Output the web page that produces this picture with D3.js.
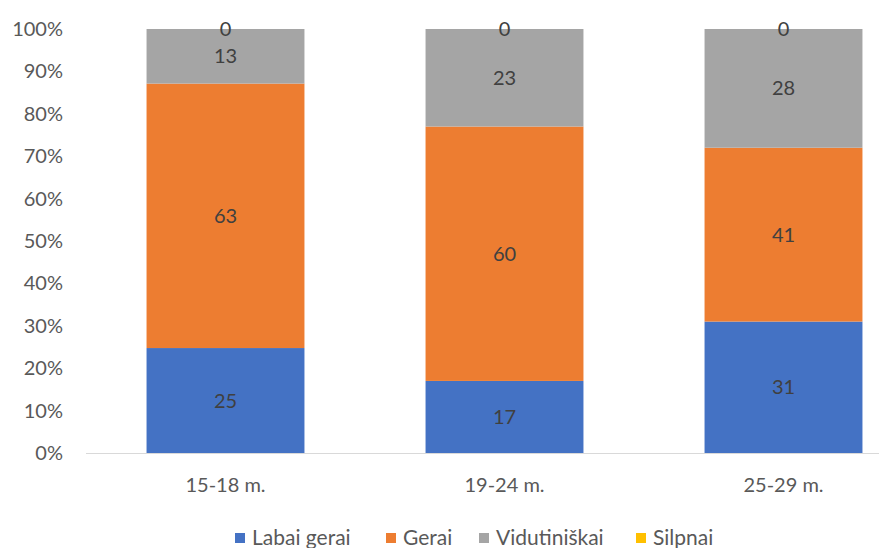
<!DOCTYPE html>
<html><head><meta charset="utf-8">
<script src="https://cdn.jsdelivr.net/npm/d3@7/dist/d3.min.js"></script>
<style>body{margin:0;background:#fff}svg{display:block}text{font-family:Lato,"Open Sans",sans-serif}</style>
</head><body><svg id="c" width="879" height="548"></svg>
<script>
const categories = ["15-18 m.", "19-24 m.", "25-29 m."];
const seriesNames = ["Labai gerai", "Gerai", "Vidutiniškai", "Silpnai"];
const labaiGerai = [25, 17, 31];
const gerai = [63, 60, 41];
const vidutiniskai = [13, 23, 28];
const silpnai = [0, 0, 0];
const yTicks = [0, 0.1, 0.2, 0.3, 0.4, 0.5, 0.6, 0.7, 0.8, 0.9, 1.0];
const colors = ["#4472C4", "#ED7D31", "#A5A5A5", "#FFC000"];

const series = [labaiGerai, gerai, vidutiniskai, silpnai];
const rows = categories.map((c, i) => {
  const r = {cat: c};
  seriesNames.forEach((s, j) => r[s] = series[j][i]);
  return r;
});
const stack = d3.stack().keys(seriesNames).offset(d3.stackOffsetExpand);
const stacked = stack(rows);

const svg = d3.select("#c");
const x = d3.scaleBand().domain(categories).range([86, 923]).paddingInner(0.434).paddingOuter(0.217);
const y = d3.scaleLinear().domain([0, 1]).range([453, 29]);

// y axis labels
const yAx = svg.append("g").attr("transform", "translate(63,0)")
  .call(d3.axisLeft(y).tickValues(yTicks).tickFormat(d3.format(".0%")).tickSize(0).tickPadding(0));
yAx.select(".domain").remove();
yAx.selectAll("text").attr("fill", "#595959").style("font-size", "20px").style("font-family", "Lato, sans-serif");

// bars
stacked.forEach((s, j) => {
  svg.append("g").attr("fill", colors[j]).selectAll("rect").data(s).join("rect")
    .attr("x", d => x(d.data.cat)).attr("width", x.bandwidth())
    .attr("y", d => y(d[1])).attr("height", d => y(d[0]) - y(d[1]));
});

// x axis
const xAx = svg.append("g").attr("transform", "translate(0,453.5)")
  .call(d3.axisBottom(x).tickSize(0).tickPadding(0));
xAx.select(".domain").attr("stroke", "#D9D9D9").attr("d", "M86,0H923");
xAx.selectAll("text").attr("fill", "#595959").attr("dy", "0.35em").attr("y", 31)
  .style("font-size", "20px").style("font-family", "Lato, sans-serif");

// data labels
stacked.forEach((s, j) => {
  svg.append("g").selectAll("text").data(s).join("text")
    .attr("x", d => x(d.data.cat) + x.bandwidth() / 2)
    .attr("y", d => (y(d[0]) + y(d[1])) / 2)
    .attr("dy", "0.35em").attr("text-anchor", "middle")
    .attr("fill", "#404040").style("font-size", "20px")
    .text(d => d.data[seriesNames[j]]);
});

// legend
const legX = [235, 386, 479, 636];
const leg = svg.append("g");
seriesNames.forEach((s, j) => {
  leg.append("rect").attr("x", legX[j]).attr("y", 533).attr("width", 10).attr("height", 10).attr("fill", colors[j]);
  leg.append("text").attr("x", legX[j] + 17).attr("y", 538).attr("dy", "0.35em")
    .attr("fill", "#595959").style("font-size", "21px").text(s);
});
</script></body></html>
